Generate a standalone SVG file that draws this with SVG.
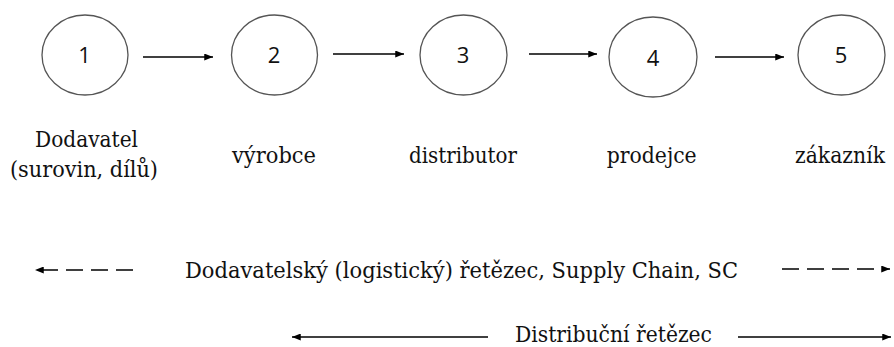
<svg xmlns="http://www.w3.org/2000/svg" width="894" height="347" viewBox="0 0 894 347">
<defs>
<style>
.node ellipse{fill:#fff;stroke:#555;stroke-width:1.3}
.num{font-family:'Open Sans',sans-serif;font-size:22px;fill:#111;text-anchor:middle}
.lbl{font-family:'DejaVu Serif','Liberation Serif',serif;font-size:22px;fill:#111;text-anchor:middle}
.conn{stroke:#000;stroke-width:1.6;fill:none}
.dash{stroke-dasharray:17 8}
</style>
<marker id="ah" viewBox="0 0 10 8" refX="10" refY="4" markerWidth="9" markerHeight="7" markerUnits="userSpaceOnUse" orient="auto-start-reverse">
<path d="M0,0 L10,4 L0,8 Z" fill="#000"/>
</marker>
</defs>
<rect width="894" height="347" fill="#fff"/>
<g id="node1" class="node"><ellipse cx="85" cy="55" rx="43" ry="40"/><text class="num" x="84.5" y="63">1</text></g>
<g id="node2" class="node"><ellipse cx="274.5" cy="55" rx="43" ry="40"/><text class="num" x="274" y="63">2</text></g>
<g id="node3" class="node"><ellipse cx="463.5" cy="55" rx="43.5" ry="40"/><text class="num" x="463" y="63">3</text></g>
<g id="node4" class="node"><ellipse cx="653" cy="57" rx="44" ry="40"/><text class="num" x="653" y="65.5">4</text></g>
<g id="node5" class="node"><ellipse cx="841.5" cy="55" rx="43.5" ry="40"/><text class="num" x="841" y="63">5</text></g>
<g id="connectors">
<line class="conn" x1="143" y1="57" x2="213" y2="57" marker-end="url(#ah)"/>
<line class="conn" x1="333" y1="54" x2="404" y2="54" marker-end="url(#ah)"/>
<line class="conn" x1="529" y1="54" x2="597" y2="54" marker-end="url(#ah)"/>
<line class="conn" x1="715" y1="57" x2="784" y2="57" marker-end="url(#ah)"/>
<line class="conn dash" x1="133" y1="270" x2="35" y2="270" marker-end="url(#ah)"/>
<line class="conn dash" x1="782" y1="269" x2="890" y2="269" marker-end="url(#ah)"/>
<line class="conn" x1="488" y1="337" x2="292" y2="337" marker-end="url(#ah)"/>
<line class="conn" x1="738" y1="337" x2="891" y2="337" marker-end="url(#ah)"/>
</g>
<g id="labels">
<text class="lbl" x="86.5" y="147" textLength="103" lengthAdjust="spacingAndGlyphs">Dodavatel</text>
<text class="lbl" x="84" y="177" textLength="148" lengthAdjust="spacingAndGlyphs">(surovin, dílů)</text>
<text class="lbl" x="274" y="163" textLength="84" lengthAdjust="spacingAndGlyphs">výrobce</text>
<text class="lbl" x="463" y="163" textLength="108" lengthAdjust="spacingAndGlyphs">distributor</text>
<text class="lbl" x="651.7" y="163" textLength="90" lengthAdjust="spacingAndGlyphs">prodejce</text>
<text class="lbl" x="840" y="163" textLength="90" lengthAdjust="spacingAndGlyphs">zákazník</text>
<text class="lbl" x="461.5" y="278" textLength="553" lengthAdjust="spacingAndGlyphs">Dodavatelský (logistický) řetězec, Supply Chain, SC</text>
<text class="lbl" x="613.5" y="342" textLength="197" lengthAdjust="spacingAndGlyphs">Distribuční řetězec</text>
</g>
</svg>
